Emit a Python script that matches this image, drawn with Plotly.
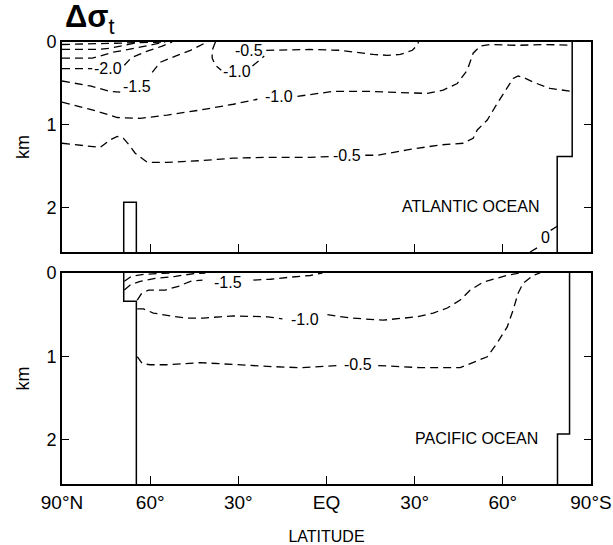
import plotly.graph_objects as go

# ---------------- axes ----------------
lat_tickvals = [90, 60, 30, 0, -30, -60, -90]
lat_ticktext = ["90°N", "60°", "30°", "EQ", "30°", "60°", "90°S"]
depth_tickvals = [0, 1, 2]
depth_ticktext = ["0", "1", "2"]
depth_max = 2.53

# ---------------- ATLANTIC (lat: + = N, - = S ; depth in km) ----------------
# near-surface unlabeled contours
atl_r1_lat = [90, 73.6, 59.9, 54.9]
atl_r1_dep = [0.03, 0.02, 0.012, 0.0]
atl_r2_lat = [90, 77.6, 73.6, 70.2, 65.7, 63.4]
atl_r2_dep = [0.09, 0.09, 0.075, 0.05, 0.015, 0.0]
atl_r3_lat = [90, 79.7, 77.0, 72.9, 67.4, 61.7, 54.9]
atl_r3_dep = [0.195, 0.195, 0.17, 0.125, 0.09, 0.05, 0.0]
# -2.0
atl_m20_lat = [90, 79.7, None, 68.8, 66.4, 61.0, 55.9, 52.5]
atl_m20_dep = [0.32, 0.32, None, 0.28, 0.19, 0.11, 0.05, 0.0]
# -1.5
atl_m15_lat = [90, 80.4, 73.6, 70.2, None, 59.3, 56.6, 51.4, 46.3, 42.9, 40.6]
atl_m15_dep = [0.47, 0.53, 0.595, 0.605, None, 0.365, 0.245, 0.17, 0.10, 0.04, 0.0]
# -1.0 (shallow bubble)
atl_m10b_lat = [37.8, 38.9, 38.9, 37.8, 35.8, None, 25.2, 23.2, 21.2]
atl_m10b_dep = [0.0, 0.10, 0.195, 0.28, 0.34, None, 0.29, 0.23, 0.17]
# -0.5 (shallow)
atl_m05b_lat = [20.5, 12.3, 5.5, -4.7, -10.5, -15.9, -20.7, -25.1, -29.2, -30.9, -31.3]
atl_m05b_dep = [0.10, 0.09, 0.09, 0.10, 0.125, 0.15, 0.16, 0.15, 0.10, 0.04, 0.0]
# -1.0 (main)
atl_m10_lat = [90, 79.4, 71.2, 63.4, 54.2, 42.9, 31.7, 23.5, None, 9.9, -2.3, -13.9,
               -22.7, -28.5, -34.3, -39.7, -44.5, -47.9, -49.9, -52.3, -55.7, -64.9, -74.4, -83.6]
atl_m10_dep = [0.725, 0.82, 0.91, 0.92, 0.88, 0.82, 0.75, 0.69, None, 0.655, 0.595, 0.595,
               0.605, 0.62, 0.62, 0.58, 0.50, 0.34, 0.135, 0.05, 0.03, 0.04, 0.03, 0.04]
# -0.5 (main)
atl_m05_lat = [90, 77.0, 73.6, 71.2, 69.1, 67.4, 65.1, 61.0, 54.2, 42.9, 31.7, 20.1, 5.5, -1.0,
               None, -13.2, -17.3, -27.5, -38.7, -46.5, -49.9, -51.3, -54.7, -58.1, -61.5,
               -63.5, -65.2, -66.9, -70.4, -76.1, -83.6]
atl_m05_dep = [1.22, 1.27, 1.18, 1.137, 1.16, 1.23, 1.34, 1.45, 1.45, 1.43, 1.40, 1.39, 1.39, 1.38,
               None, 1.365, 1.365, 1.30, 1.24, 1.22, 1.16, 1.06, 0.94, 0.74, 0.545,
               0.44, 0.41, 0.425, 0.485, 0.56, 0.595]
# 0
atl_z_lat = [-69.3, -72.6, None, -76.3, -78.5]
atl_z_dep = [2.53, 2.46, None, 2.27, 2.22]

# topography (solid)
atl_sill_lat = [69.0, 69.0, 64.7, 64.7]
atl_sill_dep = [2.53, 1.93, 1.93, 2.53]
atl_ant_lat = [-83.6, -83.6, -78.5, -78.5]
atl_ant_dep = [0.0, 1.38, 1.38, 2.53]

atl_lbl_text = ["-2.0", "-1.5", "-1.0", "-0.5", "-1.0", "-0.5", "0"]
atl_lbl_lat = [74.2, 64.4, 30.6, 26.3, 16.0, -7.1, -74.6]
atl_lbl_dep = [0.317, 0.534, 0.353, 0.10, 0.654, 1.365, 2.36]

# ---------------- PACIFIC ----------------
pac_ra_lat = [68.8, 66.4, 61.7, 56.6, 53.2]
pac_ra_dep = [0.10, 0.04, 0.015, 0.005, 0.0]
pac_rb_lat = [68.8, 66.8, 63.4, 58.3, 51.4, 44.6, 41.2]
pac_rb_dep = [0.205, 0.145, 0.10, 0.065, 0.04, 0.005, 0.0]
pac_m15_lat = [64.4, 63.0, 60.6, 54.9, 50.4, 46.3, 42.2, None, 24.9, 19.1, 12.3, 5.5, 1.4]
pac_m15_dep = [0.325, 0.25, 0.205, 0.205, 0.16, 0.10, 0.085, None, 0.085, 0.075, 0.05, 0.03, 0.0]
pac_m10_lat = [64.4, 62.3, 58.9, 53.2, 47.4, 41.9, 36.1, 31.7, 20.1, 15.0, None,
               -0.3, -8.1, -19.3, -30.9, -36.3, -41.1, -45.5, -48.9, -53.3, -58.1, -61.5, -65.9]
pac_m10_dep = [0.43, 0.43, 0.48, 0.515, 0.54, 0.54, 0.525, 0.515, 0.525, 0.55, None,
               0.50, 0.54, 0.565, 0.525, 0.48, 0.42, 0.325, 0.205, 0.11, 0.063, 0.027, 0.0]
pac_m05_lat = [64.4, 62.7, 60.0, 54.2, 42.9, 31.7, 20.1, 8.9, -3.7, None,
               -17.6, -31.9, -45.5, -49.9, -54.7, -58.1, -61.5, -63.5, -65.2, -66.9, -70.4, -72.7]
pac_m05_dep = [1.004, 1.087, 1.10, 1.10, 1.075, 1.10, 1.12, 1.135, 1.11, None,
               1.11, 1.135, 1.135, 1.075, 1.004, 0.837, 0.646, 0.444, 0.242, 0.123, 0.027, 0.0]

pac_wall_lat = [69.0, 69.0, 64.7, 64.7]
pac_wall_dep = [0.0, 0.34, 0.34, 2.53]
pac_ant_lat = [-82.7, -82.7, -78.6, -78.6]
pac_ant_dep = [0.0, 1.93, 1.93, 2.53]

pac_lbl_text = ["-1.5", "-1.0", "-0.5"]
pac_lbl_lat = [33.4, 7.3, -10.6]
pac_lbl_dep = [0.11, 0.563, 1.10]

NARROW = "Liberation Sans Narrow, Liberation Sans, Arial, sans-serif"
REG = "Liberation Sans, Arial, sans-serif"
DASH = "8px,5px"

fig = go.Figure()

atl_contours = [(atl_r1_lat, atl_r1_dep), (atl_r2_lat, atl_r2_dep), (atl_r3_lat, atl_r3_dep),
                (atl_m20_lat, atl_m20_dep), (atl_m15_lat, atl_m15_dep),
                (atl_m10b_lat, atl_m10b_dep), (atl_m05b_lat, atl_m05b_dep),
                (atl_m10_lat, atl_m10_dep), (atl_m05_lat, atl_m05_dep), (atl_z_lat, atl_z_dep)]
pac_contours = [(pac_ra_lat, pac_ra_dep), (pac_rb_lat, pac_rb_dep), (pac_m15_lat, pac_m15_dep),
                (pac_m10_lat, pac_m10_dep), (pac_m05_lat, pac_m05_dep)]

for xs, ys in atl_contours:
    fig.add_trace(go.Scatter(x=xs, y=ys, mode="lines", xaxis="x", yaxis="y",
                             line=dict(color="black", width=1.3, dash=DASH),
                             connectgaps=False, showlegend=False, hoverinfo="skip"))
for xs, ys in pac_contours:
    fig.add_trace(go.Scatter(x=xs, y=ys, mode="lines", xaxis="x2", yaxis="y2",
                             line=dict(color="black", width=1.3, dash=DASH),
                             connectgaps=False, showlegend=False, hoverinfo="skip"))

for xs, ys in [(atl_sill_lat, atl_sill_dep), (atl_ant_lat, atl_ant_dep)]:
    fig.add_trace(go.Scatter(x=xs, y=ys, mode="lines", xaxis="x", yaxis="y",
                             line=dict(color="black", width=1.5),
                             showlegend=False, hoverinfo="skip"))
for xs, ys in [(pac_wall_lat, pac_wall_dep), (pac_ant_lat, pac_ant_dep)]:
    fig.add_trace(go.Scatter(x=xs, y=ys, mode="lines", xaxis="x2", yaxis="y2",
                             line=dict(color="black", width=1.5),
                             showlegend=False, hoverinfo="skip"))

annotations = []
for t, la, de in zip(atl_lbl_text, atl_lbl_lat, atl_lbl_dep):
    annotations.append(dict(x=la, y=de, xref="x", yref="y", text=t, showarrow=False,
                            font=dict(size=16, color="black", family=REG)))
for t, la, de in zip(pac_lbl_text, pac_lbl_lat, pac_lbl_dep):
    annotations.append(dict(x=la, y=de, xref="x2", yref="y2", text=t, showarrow=False,
                            font=dict(size=16, color="black", family=REG)))
annotations.append(dict(x=-49.3, y=1.98, xref="x", yref="y", text="ATLANTIC OCEAN",
                        showarrow=False, font=dict(size=16, color="black", family=REG)))
annotations.append(dict(x=-51.0, y=1.98, xref="x2", yref="y2", text="PACIFIC OCEAN",
                        showarrow=False, font=dict(size=16, color="black", family=REG)))
annotations.append(dict(x=0.0, y=1.0, xref="paper", yref="paper", xanchor="left", yanchor="bottom",
                        xshift=1, yshift=1,
                        text="<b>Δσ</b><sub>t</sub>", showarrow=False,
                        font=dict(size=31, color="black", family=REG)))

xcommon = dict(range=[90, -90], tickvals=lat_tickvals, ticktext=lat_ticktext,
               ticks="inside", ticklen=8, tickwidth=1.3, tickcolor="black",
               showline=True, linecolor="black", linewidth=1.6, mirror=True,
               showgrid=False, zeroline=False, automargin=False,
               tickfont=dict(size=19, color="black", family=NARROW))
ycommon = dict(range=[depth_max, 0], tickvals=depth_tickvals, ticktext=depth_ticktext,
               ticks="inside", ticklen=7, tickwidth=1.3, tickcolor="black",
               showline=True, linecolor="black", linewidth=1.6, mirror="ticks",
               showgrid=False, zeroline=False, automargin=False,
               tickfont=dict(size=18, color="black", family=NARROW),
               title=dict(text="km", font=dict(size=18, color="black", family=REG), standoff=12))

fig.update_layout(
    width=613, height=545,
    margin=dict(l=62, r=22, t=42, b=61, autoexpand=False),
    paper_bgcolor="white", plot_bgcolor="white",
    xaxis=dict(xcommon, domain=[0, 1], anchor="y", showticklabels=False),
    yaxis=dict(ycommon, domain=[0.525, 1.0], anchor="x"),
    xaxis2=dict(xcommon, domain=[0, 1], anchor="y2",
                title=dict(text="LATITUDE", font=dict(size=16, color="black", family=REG), standoff=30)),
    yaxis2=dict(ycommon, domain=[0.0, 0.4774], anchor="x2"),
    annotations=annotations,
    showlegend=False,
)

fig.write_html("out.html")
